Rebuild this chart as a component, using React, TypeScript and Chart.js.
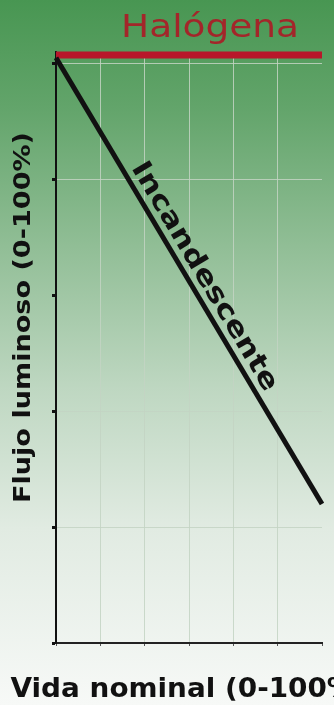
import React, { useEffect, useRef } from "react";
import { Chart, registerables } from "chart.js";

Chart.register(...registerables);

// ---- data ----
const lifePercent = [0, 100]; // Vida nominal (0-100%)
const incandescente = [101, 24]; // Flujo luminoso (%)
const halogena = [101.5, 101.5]; // Flujo luminoso (%)
const seriesNames = ["Incandescente", "Halógena"];
const xGrid = [0, 100 / 6, 200 / 6, 50, 400 / 6, 500 / 6, 100];
const yGrid = [0, 20, 40, 60, 80, 100];
const yHiddenGrid = [0, 60];
const xHiddenGrid = [0, 100];
const xTitle = "Vida nominal (0-100%)";
const yTitle = "Flujo luminoso (0-100%)";

const FONT = '"DejaVu Sans", Verdana, sans-serif';

function drawText(
  ctx: CanvasRenderingContext2D,
  text: string,
  x: number,
  y: number,
  angle: number,
  font: string,
  color: string,
  width: number | null,
  offsetY = 0
) {
  ctx.save();
  ctx.translate(x, y);
  ctx.rotate(angle);
  ctx.font = font;
  const w = ctx.measureText(text).width;
  const s = width ? width / w : 1;
  ctx.scale(s, 1);
  ctx.fillStyle = color;
  ctx.textAlign = "center";
  ctx.textBaseline = "alphabetic";
  ctx.fillText(text, 0, offsetY);
  ctx.restore();
}

const labelsPlugin = {
  id: "labelsPlugin",
  afterDatasetsDraw(chart: any) {
    const ctx: CanvasRenderingContext2D = chart.ctx;
    const area = chart.chartArea;
    // Halógena label
    drawText(ctx, seriesNames[1], 210, 37, 0, `32px ${FONT}`, "#a3262a", 178);
    // Incandescente label along its line
    const meta = chart.getDatasetMeta(0);
    const p0 = meta.data[0];
    const p1 = meta.data[1];
    const dx = p1.x - p0.x;
    const dy = p1.y - p0.y;
    const ang = Math.atan2(dy, dx);
    const t = 0.508;
    drawText(
      ctx,
      seriesNames[0],
      p0.x + dx * t,
      p0.y + dy * t,
      ang,
      `bold 27px ${FONT}`,
      "#111",
      262,
      -8
    );
    // axis titles
    drawText(ctx, yTitle, 30, 317.5, -Math.PI / 2, `bold 23px ${FONT}`, "#111", 371);
    drawText(ctx, xTitle, (area.left + area.right) / 2, 697, 0, `bold 27px ${FONT}`, "#111", 357);
  },
};

export default function App() {
  const ref = useRef<HTMLCanvasElement | null>(null);
  useEffect(() => {
    if (!ref.current) return;
    const gridColor = "rgba(195,212,195,0.85)";
    const chart = new Chart(ref.current, {
      type: "line",
      data: {
        datasets: [
          {
            label: seriesNames[0],
            data: lifePercent.map((x, i) => ({ x, y: incandescente[i] })),
            borderColor: "#111111",
            borderWidth: 5,
            pointRadius: 0,
            clip: false as any,
          },
          {
            label: seriesNames[1],
            data: lifePercent.map((x, i) => ({ x, y: halogena[i] })),
            borderColor: "#b8172a",
            borderWidth: 7,
            pointRadius: 0,
            clip: false as any,
          },
        ],
      },
      options: {
        animation: false,
        responsive: false,
        events: [],
        layout: { padding: { left: 52, right: 12, top: 52, bottom: 59 } },
        plugins: { legend: { display: false }, tooltip: { enabled: false } },
        scales: {
          x: {
            type: "linear",
            min: 0,
            max: 100,
            afterBuildTicks: (s: any) => {
              s.ticks = xGrid.map((v) => ({ value: v }));
            },
            ticks: { display: false },
            border: { color: "#222", width: 2 },
            grid: {
              color: (c: any) =>
                c.tick && xHiddenGrid.includes(c.tick.value) ? "rgba(0,0,0,0)" : gridColor,
              lineWidth: 1,
              tickLength: 3,
              tickColor: "#555",
              tickWidth: 1,
            },
          },
          y: {
            type: "linear",
            min: 0,
            max: 102,
            afterBuildTicks: (s: any) => {
              s.ticks = yGrid.map((v) => ({ value: v }));
            },
            ticks: { display: false },
            border: { color: "#111", width: 2 },
            grid: {
              color: (c: any) =>
                c.tick && yHiddenGrid.includes(c.tick.value) ? "rgba(0,0,0,0)" : gridColor,
              lineWidth: 1,
              tickLength: 4,
              tickColor: "#111",
              tickWidth: 3,
            },
          },
        },
      },
      plugins: [labelsPlugin],
    } as any);
    return () => chart.destroy();
  }, []);

  return (
    <div
      style={{
        position: "fixed",
        left: 0,
        top: 0,
        width: 334,
        height: 705,
        background:
          "linear-gradient(to bottom, rgb(72,150,82) 0%, rgb(98,164,106) 15%, rgb(145,190,150) 35%, rgb(190,215,193) 55%, rgb(225,235,226) 75%, rgb(247,249,247) 100%)",
      }}
    >
      <canvas ref={ref} width={334} height={705} style={{ display: "block" }} />
    </div>
  );
}
